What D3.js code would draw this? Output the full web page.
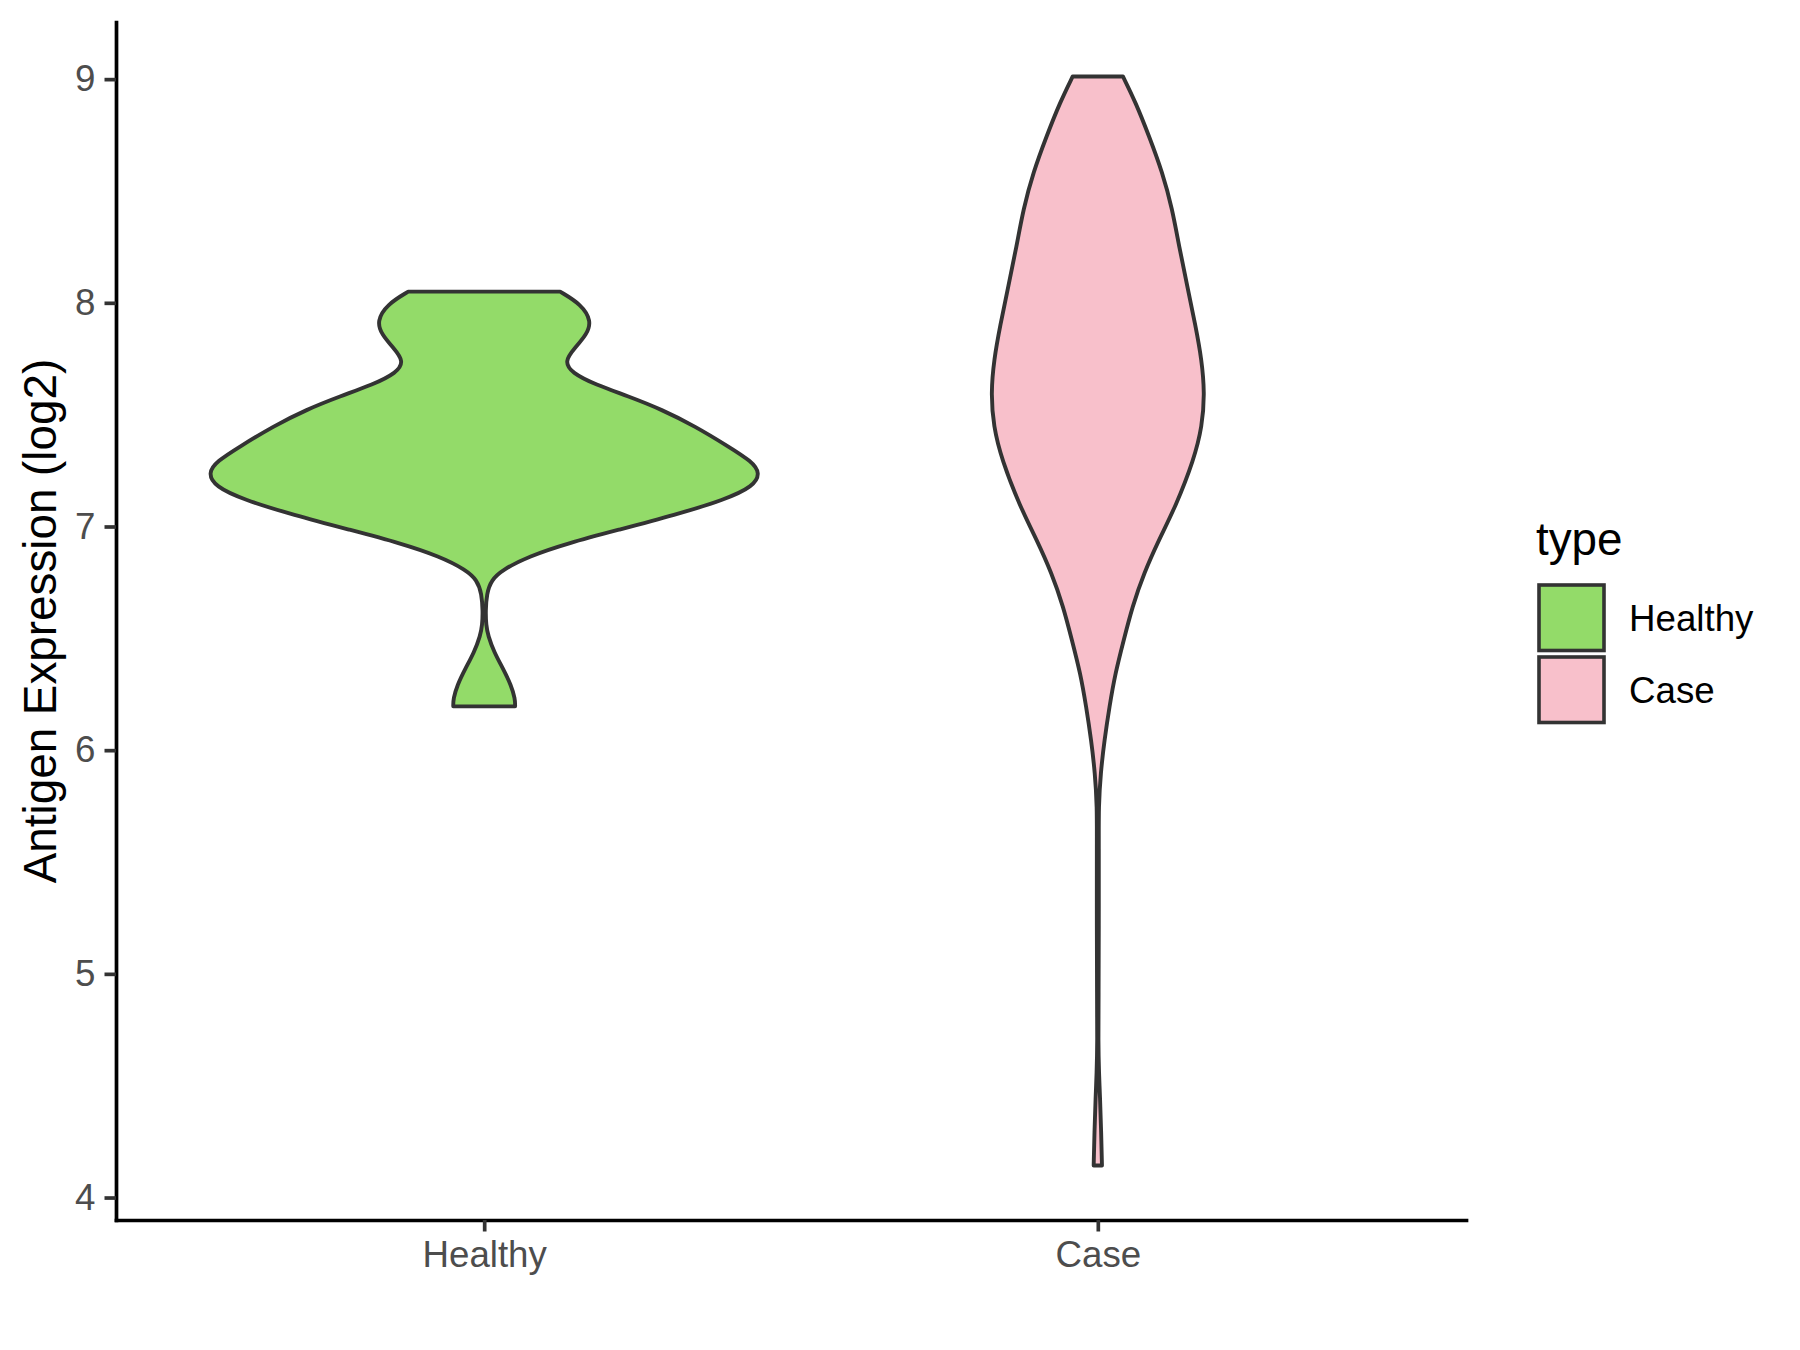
<!DOCTYPE html>
<html><head><meta charset="utf-8">
<script src="https://cdn.jsdelivr.net/npm/d3@7"></script>
<style>html,body{margin:0;padding:0;background:#fff;} svg{display:block;}</style>
</head><body>
<svg id="chart" width="1800" height="1350"></svg>
<script>
// ---- data ----
const categories = ["Healthy", "Case"];
const fillColors = ["#93DB69", "#F8C0CB"];
const yTicks = [4, 5, 6, 7, 8, 9];
const yTitle = "Antigen Expression (log2)";
const legendTitle = "type";

// violin outlines: expression value and relative half-width (violinwidth, 1 = widest)
const healthyY = [8.050, 7.993, 7.918, 7.858, 7.799, 7.739, 7.687, 7.635, 7.582, 7.523, 7.448, 7.358, 7.291, 7.239, 7.179, 7.120, 7.052, 6.985, 6.926, 6.866, 6.806, 6.761, 6.700, 6.620, 6.560, 6.512, 6.438, 6.363, 6.289, 6.229, 6.196];
const healthyW = [0.275, 0.352, 0.389, 0.371, 0.329, 0.290, 0.317, 0.402, 0.522, 0.643, 0.764, 0.884, 0.969, 1.000, 0.975, 0.872, 0.691, 0.486, 0.305, 0.160, 0.066, 0.026, 0.009, 0.005, 0.007, 0.014, 0.036, 0.069, 0.098, 0.112, 0.112];
const caseY = [9.012, 8.896, 8.747, 8.583, 8.418, 8.254, 8.075, 7.896, 7.747, 7.597, 7.448, 7.299, 7.090, 6.940, 6.791, 6.642, 6.493, 6.343, 6.194, 6.045, 5.896, 5.746, 5.600, 5.200, 4.900, 4.700, 4.550, 4.450, 4.300, 4.143];
const caseW = [0.091, 0.137, 0.185, 0.234, 0.270, 0.294, 0.324, 0.354, 0.376, 0.387, 0.378, 0.348, 0.282, 0.221, 0.167, 0.125, 0.094, 0.063, 0.042, 0.024, 0.010, 0.003, 0.0036, 0.0036, 0.0029, 0.0015, 0.0043, 0.008, 0.012, 0.015];

// ---- layout ----
const W = 1800, H = 1350;
const panel = {left: 116, right: 1466, top: 22, bottom: 1220};
const FONT = "'Liberation Sans', Arial, Helvetica, sans-serif";
const outline = "#333333";
const tickFont = 36.7, titleFont = 45.8;

const svg = d3.select("#chart");
svg.append("rect").attr("width", W).attr("height", H).attr("fill", "#fff");

const x = d3.scalePoint().domain(categories).range([panel.left, panel.right]).padding(0.6);
const allY = healthyY.concat(caseY);
const [ymin, ymax] = d3.extent(allY);
const pad = 0.05 * (ymax - ymin);
const y = d3.scaleLinear().domain([ymin - pad, ymax + pad]).range([panel.bottom, panel.top]);
const w = d3.scaleLinear().domain([0, 1]).range([0, 0.45 * x.step()]);

const violins = [
  {cat: categories[0], fill: fillColors[0], pts: healthyY.map((v, i) => ({v, w: healthyW[i]}))},
  {cat: categories[1], fill: fillColors[1], pts: caseY.map((v, i) => ({v, w: caseW[i]}))}
];

const gV = svg.append("g");
violins.forEach(vi => {
  const cx = x(vi.cat);
  const area = d3.area()
    .y(d => y(d.v))
    .x0(d => cx - w(d.w))
    .x1(d => cx + w(d.w))
    .curve(d3.curveBasis);
  gV.append("path")
    .attr("d", area(vi.pts))
    .attr("fill", vi.fill)
    .attr("stroke", outline)
    .attr("stroke-width", 3.9)
    .attr("stroke-linejoin", "round");
});

// ---- axes ----
const gy = svg.append("g").attr("transform", `translate(${panel.left},0)`)
  .call(d3.axisLeft(y).tickValues(yTicks).tickFormat(d3.format("d")).tickSize(11.5).tickSizeOuter(0).tickPadding(9.2));
const gx = svg.append("g").attr("transform", `translate(0,${panel.bottom})`)
  .call(d3.axisBottom(x).tickSize(11.5).tickSizeOuter(0).tickPadding(9.2));

[gy, gx].forEach(g => {
  g.attr("font-family", FONT).attr("font-size", tickFont);
  g.select(".domain").attr("stroke", "#000").attr("stroke-width", 3.7).attr("stroke-linecap", "square");
  g.selectAll(".tick line").attr("stroke", outline).attr("stroke-width", 3.7);
  g.selectAll(".tick text").attr("fill", "#4D4D4D");
});

svg.append("text")
  .attr("transform", `translate(56,${(panel.top + panel.bottom) / 2}) rotate(-90)`)
  .attr("text-anchor", "middle")
  .attr("font-family", FONT).attr("font-size", titleFont).attr("fill", "#000")
  .text(yTitle);

// ---- legend ----
const lg = svg.append("g");
lg.append("text").attr("x", 1536).attr("y", 555)
  .attr("font-family", FONT).attr("font-size", titleFont).attr("fill", "#000").text(legendTitle);
categories.forEach((c, i) => {
  const top = 582 + i * 72;
  lg.append("rect").attr("x", 1539).attr("y", top + 3).attr("width", 65).attr("height", 65.5)
    .attr("fill", fillColors[i]).attr("stroke", outline).attr("stroke-width", 3.6);
  lg.append("text").attr("x", 1629).attr("y", top + 36).attr("dy", "0.35em")
    .attr("font-family", FONT).attr("font-size", tickFont).attr("fill", "#000").text(c);
});
</script>
</body></html>
